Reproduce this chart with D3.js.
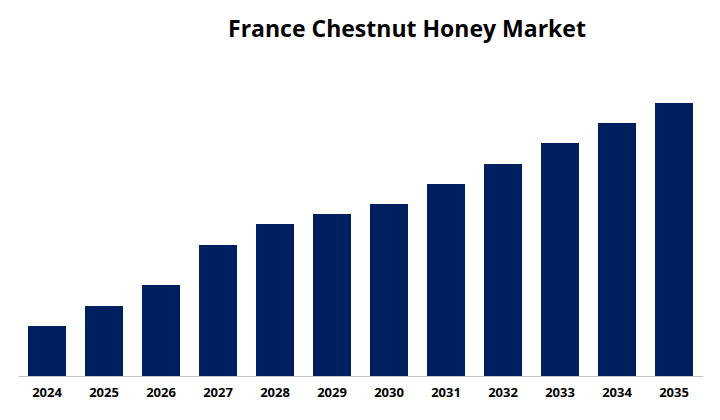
<!DOCTYPE html>
<html>
<head>
<meta charset="utf-8">
<script src="https://cdn.jsdelivr.net/npm/d3@7"></script>
<style>
  body { margin: 0; background: #fff; }
</style>
</head>
<body>
<svg id="chart" width="720" height="420"></svg>
<script>
const years = ["2024", "2025", "2026", "2027", "2028", "2029", "2030", "2031", "2032", "2033", "2034", "2035"];
const values = [5.0, 7.0, 9.1, 13.1, 15.2, 16.2, 17.2, 19.2, 21.2, 23.3, 25.3, 27.3];

const svg = d3.select("#chart");

// Title
svg.append("text")
  .attr("x", 407)
  .attr("y", 37)
  .attr("text-anchor", "middle")
  .style("font-family", "'Open Sans', sans-serif")
  .style("font-size", "23px")
  .style("font-weight", "bold")
  .text("France Chestnut Honey Market")
  .style("fill", "#000");

const x = d3.scaleBand()
  .domain(years)
  .range([18.5, 702.5])
  .paddingInner(1 / 3)
  .paddingOuter(1 / 6);

const y = d3.scaleLinear()
  .domain([0, d3.max(values)])
  .range([376, 103]);

// Bars
svg.append("g")
  .selectAll("rect")
  .data(years)
  .join("rect")
  .attr("x", d => x(d))
  .attr("y", (d, i) => y(values[i]))
  .attr("width", x.bandwidth())
  .attr("height", (d, i) => y(0) - y(values[i]))
  .style("fill", "#001f5f");

// x axis
const xAxis = svg.append("g")
  .attr("transform", `translate(0, ${y(0)})`)
  .call(d3.axisBottom(x).tickSize(0).tickPadding(12));

xAxis.select(".domain").attr("stroke", "#bfbfbf");
xAxis.selectAll("text")
  .style("font-family", "'Open Sans', sans-serif")
  .style("font-size", "13px")
  .style("font-weight", "bold")
  .style("fill", "#000");
</script>
</body>
</html>
